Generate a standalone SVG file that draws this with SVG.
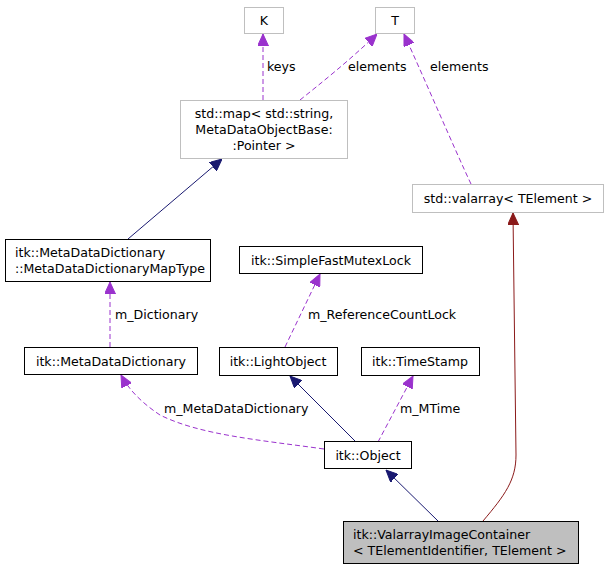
<svg xmlns="http://www.w3.org/2000/svg" width="608" height="571" viewBox="0 0 608 571">
<style>
text{font-family:"DejaVu Sans",sans-serif;font-size:12.6px;fill:#000}
.n rect{fill:#fff;stroke:#000;stroke-width:1}
.g rect{fill:#fff;stroke:#bfbfbf;stroke-width:1}
.c{fill:none;stroke-width:1}
.p{stroke:#9a32cd;stroke-dasharray:5,3}
.b{stroke:#191970}
.r{stroke:#8b1a1a}
</style>
<defs>
<marker id="ap" markerWidth="12" markerHeight="11" refX="12" refY="5.5" orient="auto" markerUnits="userSpaceOnUse"><path d="M0,0 L12,5.5 L0,11 Z" fill="#9a32cd" stroke="#9a32cd"/></marker>
<marker id="ab" markerWidth="12" markerHeight="11" refX="12" refY="5.5" orient="auto" markerUnits="userSpaceOnUse"><path d="M0,0 L12,5.5 L0,11 Z" fill="#191970" stroke="#191970"/></marker>
<marker id="ar" markerWidth="12" markerHeight="11" refX="12" refY="5.5" orient="auto" markerUnits="userSpaceOnUse"><path d="M0,0 L12,5.5 L0,11 Z" fill="#8b1a1a" stroke="#8b1a1a"/></marker>
</defs>
<g id="connectors">
<path class="c p" d="M263,100 L263,34" marker-end="url(#ap)"/>
<text x="267" y="71">keys</text>
<path class="c p" d="M300,100 C320,84 350,60 377,34" marker-end="url(#ap)"/>
<text x="348" y="71">elements</text>
<path class="c p" d="M471,184 C455,150 425,80 404,34" marker-end="url(#ap)"/>
<text x="430" y="71">elements</text>
<path class="c b" d="M128,239 L222,159" marker-end="url(#ab)"/>
<path class="c p" d="M110,347 L110,282" marker-end="url(#ap)"/>
<text x="115" y="319">m_Dictionary</text>
<path class="c p" d="M285,347 L320,274" marker-end="url(#ap)"/>
<text x="308" y="319">m_ReferenceCountLock</text>
<path class="c b" d="M355,441 L290,376" marker-end="url(#ab)"/>
<path class="c p" d="M378,442 L413,376" marker-end="url(#ap)"/>
<text x="400" y="413">m_MTime</text>
<path class="c p" d="M324,449 C260,440 200,435 160,415 C145,405 130,392 121,375" marker-end="url(#ap)"/>
<text x="164" y="413">m_MetaDataDictionary</text>
<path class="c b" d="M438,521 L386,470" marker-end="url(#ab)"/>
<path class="c r" d="M483,521 C505,495 516,480 516,455 L513,213" marker-end="url(#ar)"/>
</g>
<g id="K" class="g"><rect x="244.5" y="7.5" width="39" height="26"/><text x="264" y="25" text-anchor="middle">K</text></g>
<g id="T" class="g"><rect x="375.5" y="7.5" width="39" height="26"/><text x="395" y="25" text-anchor="middle">T</text></g>
<g id="stdmap" class="g"><rect x="180.5" y="100.5" width="167" height="58"/><text x="264" y="118" text-anchor="middle">std::map&lt; std::string,</text><text x="264" y="134" text-anchor="middle">MetaDataObjectBase:</text><text x="264" y="150" text-anchor="middle">:Pointer &gt;</text></g>
<g id="valarray" class="g"><rect x="412.5" y="184.5" width="191" height="28"/><text x="508" y="203" text-anchor="middle">std::valarray&lt; TElement &gt;</text></g>
<g id="MapType" class="n"><rect x="5.5" y="239.5" width="205" height="42"/><text x="15" y="257">itk::MetaDataDictionary</text><text x="15" y="273">::MetaDataDictionaryMapType</text></g>
<g id="MetaDataDictionary" class="n"><rect x="24.5" y="347.5" width="173" height="27"/><text x="111" y="366" text-anchor="middle">itk::MetaDataDictionary</text></g>
<g id="SimpleFastMutexLock" class="n"><rect x="239.5" y="246.5" width="183" height="27"/><text x="331" y="265" text-anchor="middle">itk::SimpleFastMutexLock</text></g>
<g id="LightObject" class="n"><rect x="219.5" y="347.5" width="118" height="28"/><text x="278" y="366" text-anchor="middle">itk::LightObject</text></g>
<g id="TimeStamp" class="n"><rect x="361.5" y="347.5" width="118" height="28"/><text x="420" y="366" text-anchor="middle">itk::TimeStamp</text></g>
<g id="Object" class="n"><rect x="324.5" y="441.5" width="87" height="27"/><text x="368" y="460" text-anchor="middle">itk::Object</text></g>
<g id="ValarrayImageContainer"><rect x="343.5" y="521.5" width="235" height="42" fill="#bfbfbf" stroke="#000"/><text x="353" y="539">itk::ValarrayImageContainer</text><text x="353" y="555">&lt; TElementIdentifier, TElement &gt;</text></g>
</svg>
